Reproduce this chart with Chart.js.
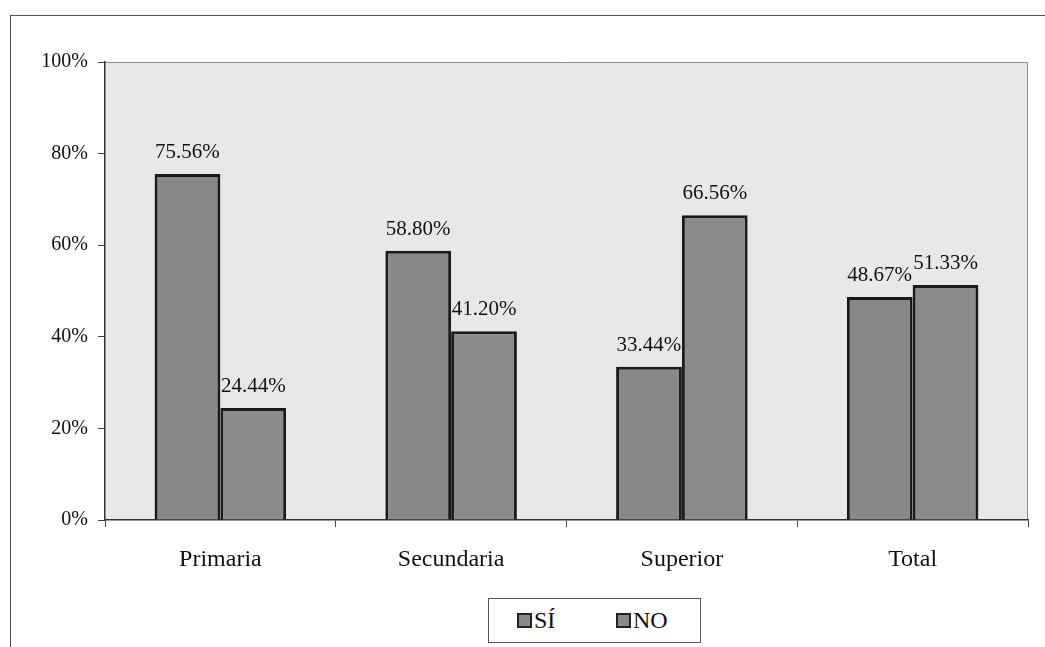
<!DOCTYPE html>
<html>
<head>
<meta charset="utf-8">
<script src="https://cdn.jsdelivr.net/npm/chart.js@4.4.0/dist/chart.umd.min.js"></script>
<style>
  html, body { margin: 0; padding: 0; background: #fff; }
  #wrap { position: relative; width: 1045px; height: 647px; overflow: hidden; }
  #frame { position: absolute; left: 10px; top: 15px; width: 1100px; height: 700px; border: 1px solid #555; }
  #c { position: absolute; left: 0; top: 0; }
  #legend { position: absolute; left: 488px; top: 598px; width: 211px; height: 43px; border: 1px solid #555;
            font-family: "Liberation Serif", "DejaVu Serif", serif; font-size: 24px; color: #111; background: #fff; }
  .item { position: absolute; top: 0; height: 43px; display: flex; align-items: center; gap: 2px; }
  .sw { width: 11px; height: 11px; background: #8a8a8a; border: 2px solid #222; }
</style>
</head>
<body>
<div id="wrap">
  <div id="frame"></div>
  <canvas id="c" width="1045" height="647"></canvas>
  <div id="legend">
    <div class="item" style="left:28px"><span class="sw"></span><span>SÍ</span></div>
    <div class="item" style="left:127px"><span class="sw"></span><span>NO</span></div>
  </div>
</div>
<script>
const categorias = ["Primaria", "Secundaria", "Superior", "Total"];
const valoresSi = [75.56, 58.80, 33.44, 48.67];
const valoresNo = [24.44, 41.20, 66.56, 51.33];
const ticksY = [0, 20, 40, 60, 80, 100];

const fuente = "'Liberation Serif', 'DejaVu Serif', serif";

// fondo gris del área de trazado y borde fino arriba/derecha
const fondoPlot = {
  id: "fondoPlot",
  beforeDraw(chart) {
    const { ctx, chartArea: a } = chart;
    ctx.save();
    ctx.fillStyle = "#e8e8e8";
    ctx.fillRect(a.left, a.top, a.right - a.left, a.bottom - a.top);
    ctx.strokeStyle = "#8a8a8a";
    ctx.lineWidth = 1;
    ctx.beginPath();
    ctx.moveTo(a.left, a.top + 0.5);
    ctx.lineTo(a.right - 0.5, a.top + 0.5);
    ctx.lineTo(a.right - 0.5, a.bottom);
    ctx.stroke();
    ctx.restore();
  }
};

// etiquetas de valor encima de cada barra
const etiquetas = {
  id: "etiquetas",
  afterDatasetsDraw(chart) {
    const { ctx } = chart;
    ctx.save();
    ctx.font = "21px " + fuente;
    ctx.fillStyle = "#111";
    ctx.textAlign = "center";
    ctx.textBaseline = "bottom";
    chart.data.datasets.forEach((ds, i) => {
      chart.getDatasetMeta(i).data.forEach((bar, j) => {
        ctx.fillText(ds.data[j].toFixed(2) + "%", bar.x, bar.y - 11);
      });
    });
    ctx.restore();
  }
};

new Chart(document.getElementById("c"), {
  type: "bar",
  data: {
    labels: categorias,
    datasets: [
      { label: "SÍ", data: valoresSi, backgroundColor: "#888888", borderColor: "#1a1a1a", borderWidth: 3 },
      { label: "NO", data: valoresNo, backgroundColor: "#8b8b8b", borderColor: "#1a1a1a", borderWidth: 3 }
    ]
  },
  options: {
    responsive: false,
    animation: false,
    layout: { padding: { top: 62, right: 17, left: 0, bottom: 67 } },
    datasets: { bar: { categoryPercentage: 0.57, barPercentage: 1.0 } },
    plugins: { legend: { display: false }, tooltip: { enabled: false } },
    scales: {
      x: {
        afterFit(s) { s.height = 60; },
        grid: { drawOnChartArea: false, tickLength: 7, color: "#444" },
        border: { color: "#333", width: 1.5 },
        ticks: { color: "#111", font: { family: fuente, size: 24 }, padding: 18 }
      },
      y: {
        min: 0, max: 100,
        afterFit(s) { s.width = 105; },
        afterBuildTicks(s) { s.ticks = ticksY.map(v => ({ value: v })); },
        grid: { drawOnChartArea: false, tickLength: 7, color: "#444" },
        border: { color: "#333", width: 1.5 },
        ticks: { color: "#111", font: { family: fuente, size: 20 }, padding: 10, callback: v => v + "%" }
      }
    }
  },
  plugins: [fondoPlot, etiquetas]
});
</script>
</body>
</html>
